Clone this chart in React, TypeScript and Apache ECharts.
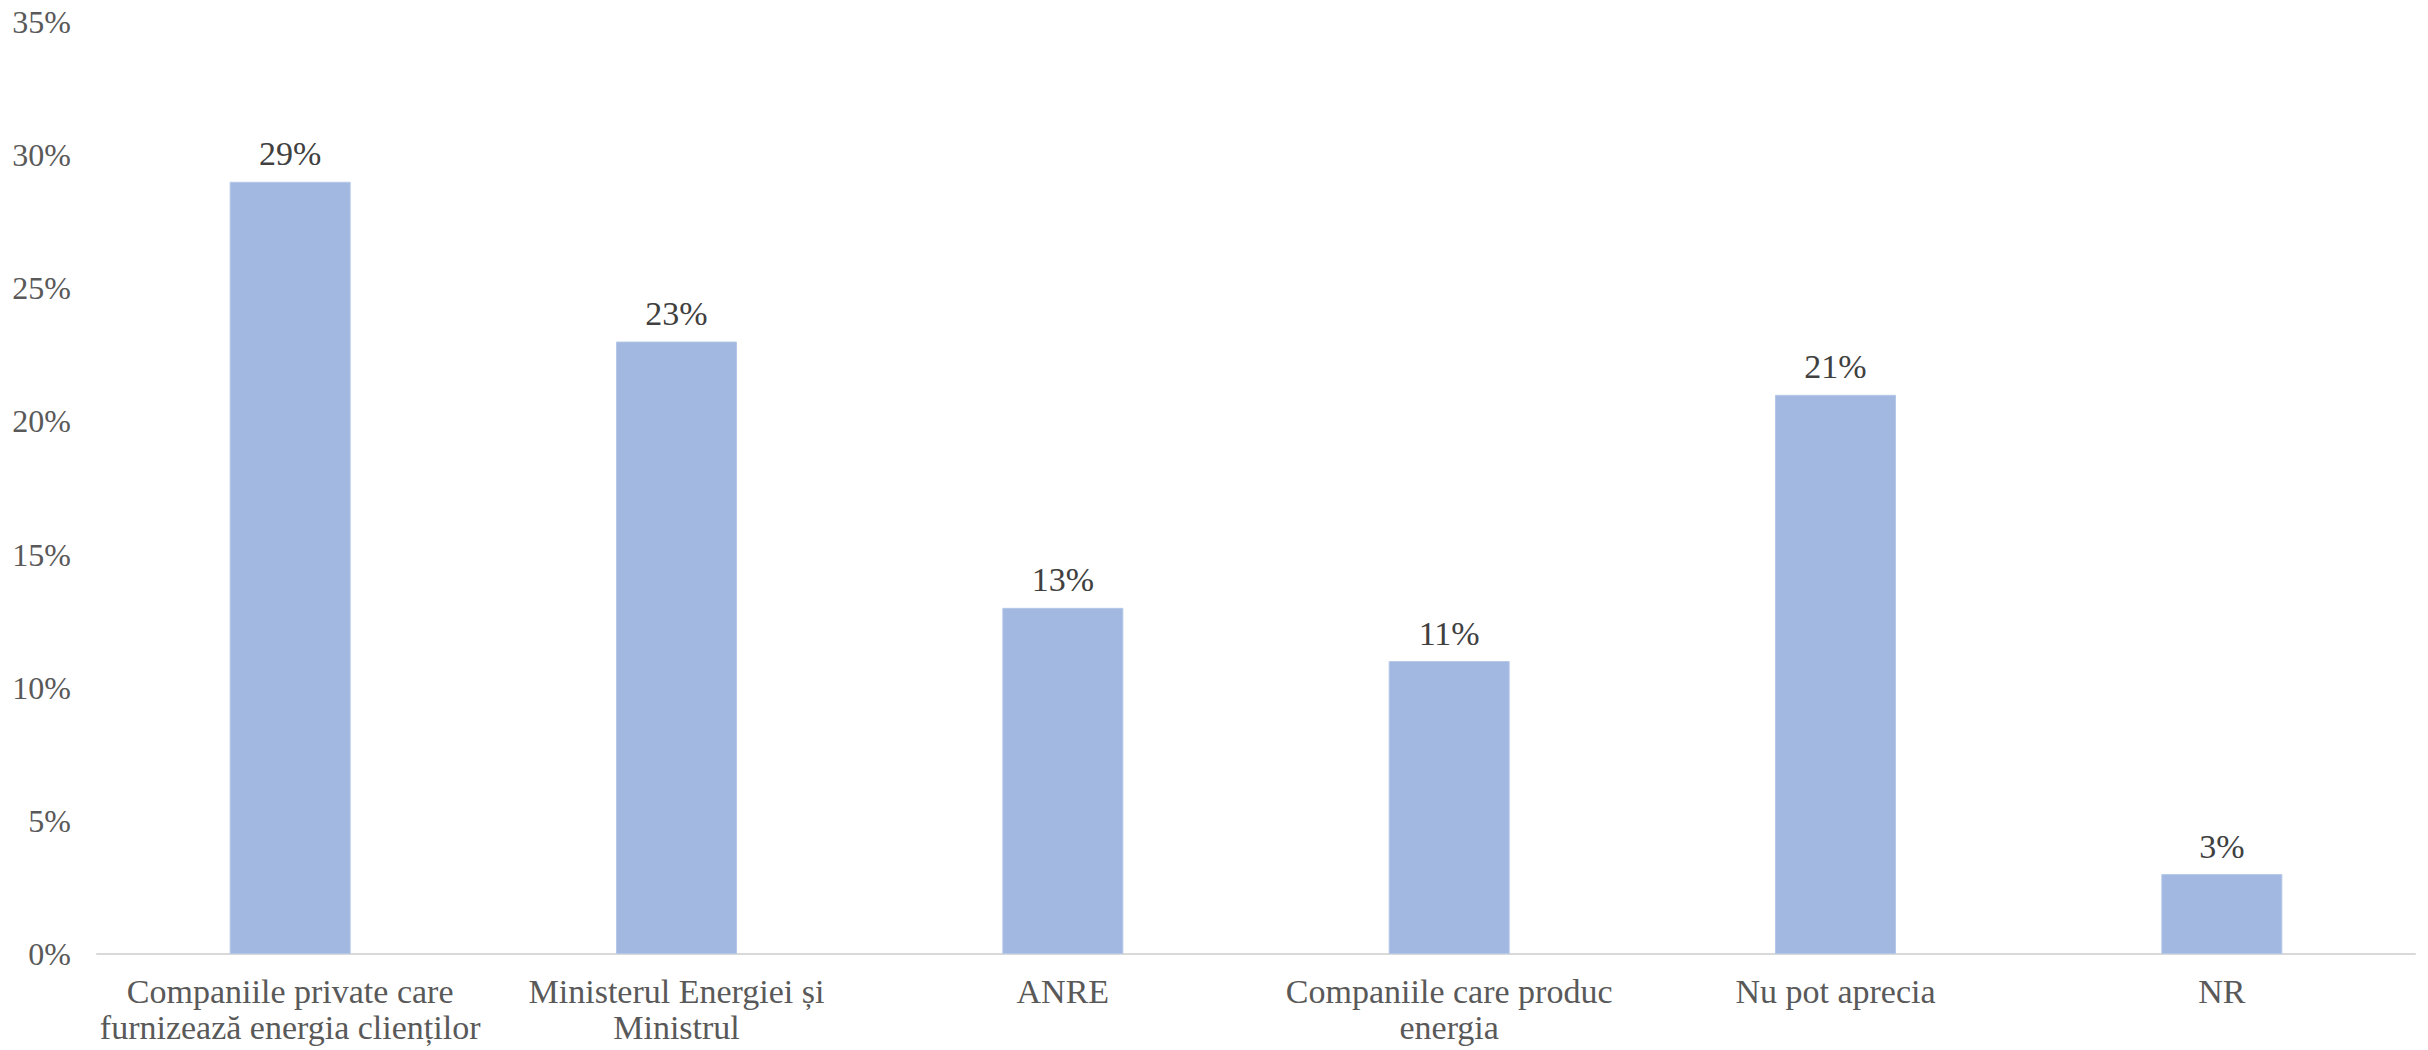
import React, { useEffect, useRef } from "react";
import * as echarts from "echarts";

const categories = [
  "Companiile private care\nfurnizează energia clienților",
  "Ministerul Energiei și\nMinistrul",
  "ANRE",
  "Companiile care produc\nenergia",
  "Nu pot aprecia",
  "NR",
];
const values = [29, 23, 13, 11, 21, 3];
const yMin = 0;
const yMax = 35;
const yStep = 5;

const FONT = "'Liberation Serif', serif";

export default function App() {
  const ref = useRef<HTMLDivElement>(null);
  useEffect(() => {
    if (!ref.current) return;
    const chart = echarts.init(ref.current, null, { renderer: "svg" });
    chart.setOption({
      animation: false,
      backgroundColor: "#ffffff",
      grid: {
        left: 97,
        right: 13,
        top: 22,
        bottom: 96,
        containLabel: false,
        outerBoundsMode: "none",
      },
      xAxis: {
        type: "category",
        data: categories,
        axisTick: { show: false },
        axisLine: { show: true, lineStyle: { color: "#d9d9d9", width: 2 } },
        axisLabel: {
          color: "#595959",
          fontFamily: FONT,
          fontSize: 34,
          lineHeight: 36,
          margin: 19,
          interval: 0,
        },
      },
      yAxis: {
        type: "value",
        min: yMin,
        max: yMax,
        interval: yStep,
        axisLine: { show: false },
        axisTick: { show: false },
        splitLine: { show: false },
        axisLabel: {
          color: "#595959",
          fontFamily: FONT,
          fontSize: 32,
          margin: 26,
          formatter: "{value}%",
        },
      },
      series: [
        {
          type: "bar",
          data: values,
          barWidth: 121,
          itemStyle: { color: "#a2b8e1", borderColor: "#b4c7e7", borderWidth: 1 },
          label: {
            show: true,
            position: "top",
            distance: 11,
            color: "#404040",
            fontFamily: FONT,
            fontSize: 34,
            formatter: "{c}%",
          },
        },
      ],
    });
    return () => chart.dispose();
  }, []);
  return (
    <div
      ref={ref}
      style={{ position: "fixed", left: 0, top: 0, width: 2428, height: 1050 }}
    />
  );
}
